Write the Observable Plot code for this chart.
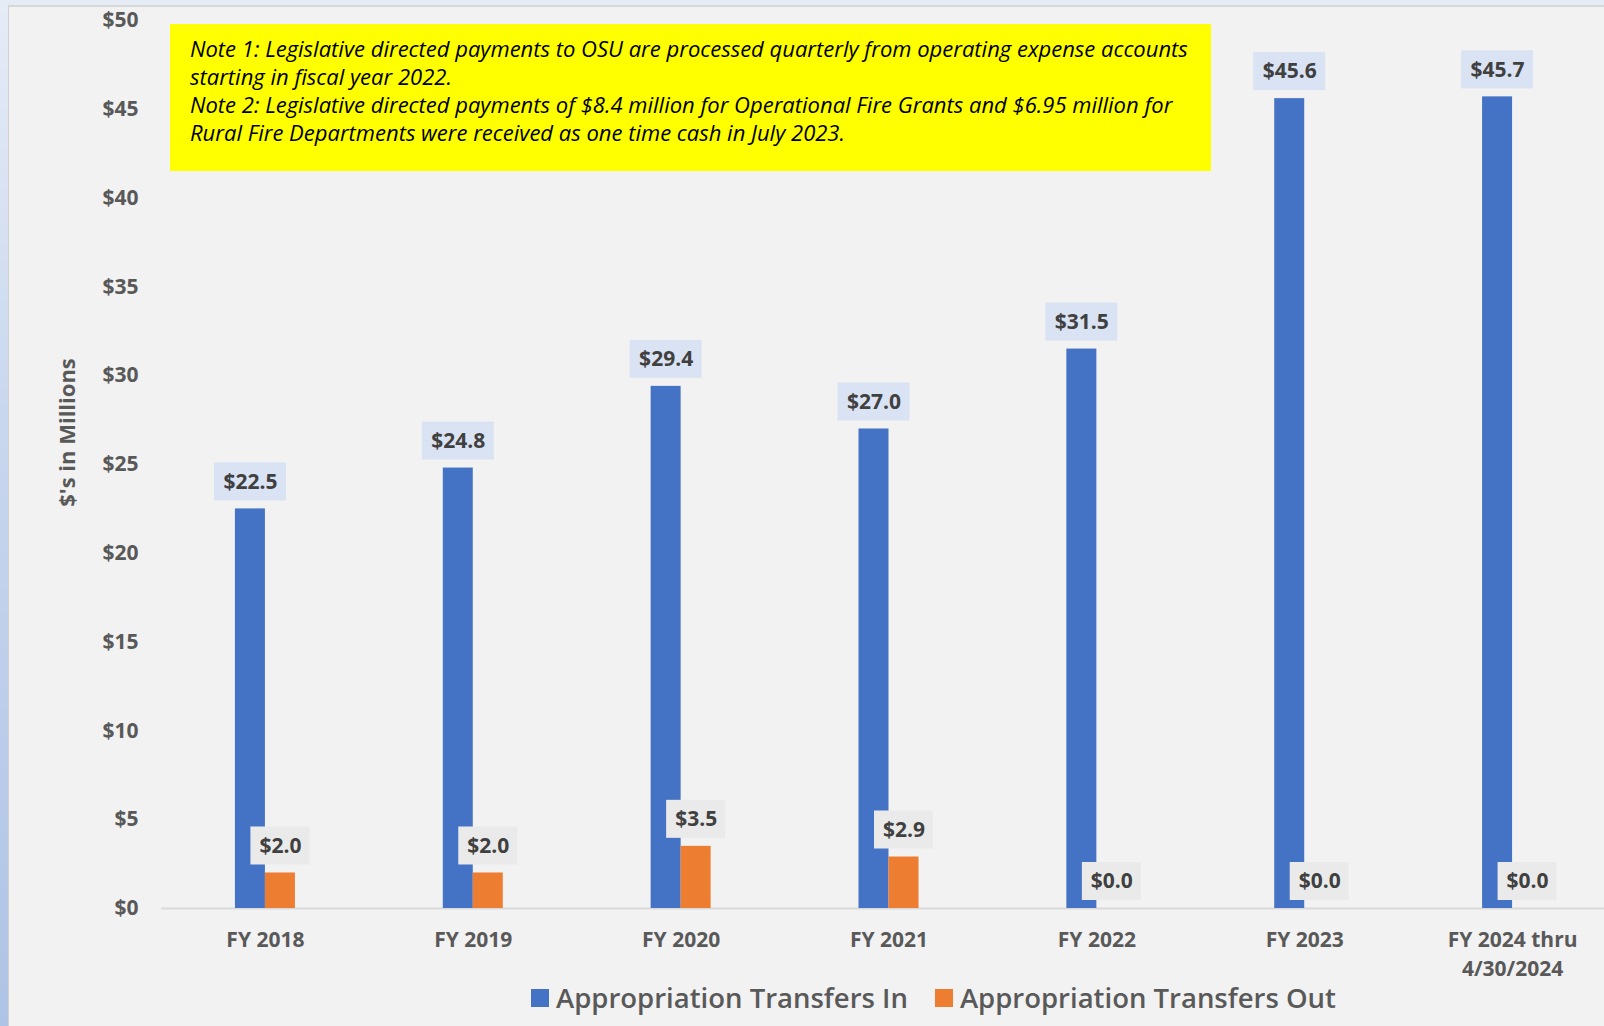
<!DOCTYPE html>
<html>
<head>
<meta charset="utf-8">
<script src="https://cdn.jsdelivr.net/npm/d3@7"></script>
<script src="https://cdn.jsdelivr.net/npm/@observablehq/plot@0.6"></script>
<style>
  html, body { margin: 0; padding: 0; }
  body { width: 1604px; height: 1026px; overflow: hidden;
         background: linear-gradient(to bottom, #E6ECF6 0%, #C9D7EE 40%, #AFC3E6 100%); }
  #wrap { position: relative; width: 1604px; height: 1026px; }
  #panel { position: absolute; left: 8px; top: 5px; right: 0; bottom: 0;
           background: #F2F2F2; border-left: 1px solid #D0D0D0; border-top: 2px solid #D6D6D6; }
  #chart { position: absolute; left: 0; top: 0; }
  #note { position: absolute; left: 170px; top: 24px; width: 1021px; height: 137px;
          background: #FFFF00; padding: 10px 0 0 20px; box-sizing: content-box;
          font-family: "Open Sans", sans-serif; font-style: italic; font-size: 22px;
          line-height: 28px; color: #000; white-space: nowrap; }
  #legend { position: absolute; left: 531px; top: 979px; display: flex; align-items: center;
            font-family: "Open Sans", sans-serif; font-weight: 600; font-size: 27.5px; color: #595959; }
  #legend .sw { width: 18px; height: 18px; display: inline-block; margin-right: 7px; }
  #legend .item { display: flex; align-items: center; margin-right: 27px; }
</style>
</head>
<body>
<div id="wrap">
  <div id="panel"></div>
  <div id="chart"></div>
  <div id="note"></div>
  <div id="legend"></div>
</div>
<script>
// ---- data ----
const categories = ["FY 2018", "FY 2019", "FY 2020", "FY 2021", "FY 2022", "FY 2023", "FY 2024 thru\n4/30/2024"];
const transfersIn = [22.5, 24.8, 29.4, 27.0, 31.5, 45.6, 45.7];
const transfersOut = [2.0, 2.0, 3.5, 2.9, 0.0, 0.0, 0.0];
const yTicks = [0, 5, 10, 15, 20, 25, 30, 35, 40, 45, 50];
const seriesNames = ["Appropriation Transfers In", "Appropriation Transfers Out"];
const seriesColors = ["#4472C4", "#ED7D31"];
const yTitle = "$'s in Millions";
const noteLines = [
  "Note 1: Legislative directed payments to OSU are processed quarterly from operating expense accounts",
  "starting in fiscal year 2022.",
  "Note 2: Legislative directed payments of $8.4 million for Operational Fire Grants and $6.95 million for",
  "Rural Fire Departments were received as one time cash in July 2023."
];

const data = categories.map((c, i) => ({category: c, vin: transfersIn[i], vout: transfersOut[i]}));
const fmt = v => "$" + v.toFixed(1);

const labelStyle = {fontSize: 21, fontWeight: "bold", fill: "#404040", lineAnchor: "middle"};

const chart = Plot.plot({
  width: 1604,
  height: 1026,
  marginLeft: 161,
  marginRight: 0,
  marginTop: 20,
  marginBottom: 118,
  style: {background: "transparent", fontFamily: "'Open Sans', sans-serif", overflow: "visible"},
  x: {domain: categories, range: [161, 1616], paddingInner: 0.8557, paddingOuter: 0.4278, round: false},
  y: {domain: [0, 50]},
  marks: [
    Plot.ruleY([0], {stroke: "#D9D9D9", strokeWidth: 2}),
    Plot.barY(data, {x: "category", y: "vin", fill: seriesColors[0], dx: -15}),
    Plot.barY(data, {x: "category", y: "vout", fill: seriesColors[1], dx: 15}),
    // label backgrounds
    Plot.barY(data, {x: "category", y1: "vin", y2: "vin", dx: -15, insetTop: -46, insetBottom: 8, insetLeft: -21, insetRight: -21, fill: "#DAE3F3"}),
    Plot.barY(data, {x: "category", y1: "vout", y2: "vout", dx: 15, insetTop: -46, insetBottom: 8, insetLeft: -14.5, insetRight: -14.5, fill: "#EAEAEA"}),
    Plot.text(data, {x: "category", y: "vin", text: d => fmt(d.vin), dx: -15, dy: -27, ...labelStyle}),
    Plot.text(data, {x: "category", y: "vout", text: d => fmt(d.vout), dx: 15, dy: -27, ...labelStyle}),
    Plot.axisY({ticks: yTicks, tickFormat: d => "$" + d, tickSize: 0, tickPadding: 23, fontSize: 21, fontWeight: "bold", fill: "#595959", label: null}),
    Plot.axisX({tickSize: 0, tickPadding: 17, fontSize: 21, fontWeight: "bold", fill: "#595959", lineHeight: 1.42, lineAnchor: "top", label: null}),
    Plot.text([yTitle], {frameAnchor: "left", textAnchor: "middle", rotate: -90, dx: -94, dy: -32, fontSize: 22, fontWeight: "bold", fill: "#595959"})
  ]
});
document.getElementById("chart").appendChild(chart);

// note box
const note = document.getElementById("note");
note.innerHTML = noteLines.map(l => l.replace(/&/g, "&amp;")).join("<br>");

// legend
const legend = document.getElementById("legend");
legend.innerHTML = seriesNames.map((n, i) =>
  `<span class="item"><span class="sw" style="background:${seriesColors[i]}"></span>${n}</span>`).join("");
</script>
</body>
</html>
